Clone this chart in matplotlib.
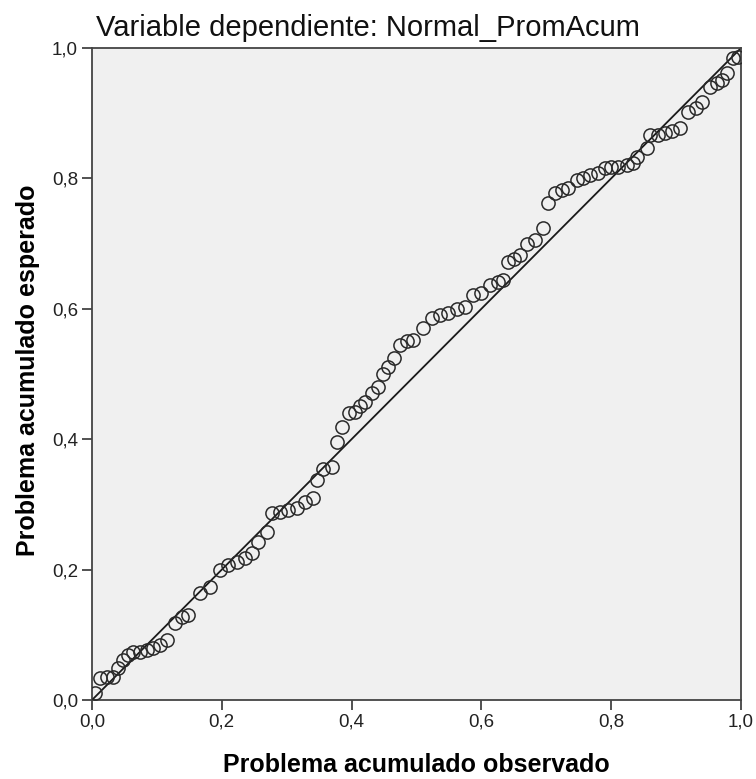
import matplotlib
matplotlib.use("Agg")
import matplotlib.pyplot as plt

observed = [0.005,0.012,0.023,0.032,0.040,0.048,0.055,0.063,0.074,0.085,0.094,0.105,0.116,0.128,0.139,0.148,
            0.166,0.182,0.197,0.210,0.223,0.236,0.247,0.256,0.270,0.277,0.290,0.302,0.316,0.328,
            0.340,0.347,0.356,0.370,0.377,0.385,0.396,0.405,0.413,0.420,0.431,0.440,0.448,0.456,0.465,0.475,0.485,0.495,
            0.510,0.524,0.536,0.549,0.562,0.575,0.587,0.600,0.613,0.625,0.633,0.641,0.650,0.660,0.670,0.683,0.695,
            0.703,0.713,0.724,0.733,0.747,0.757,0.767,0.780,0.790,0.800,0.810,0.824,0.834,
            0.840,0.855,0.860,0.872,0.883,0.894,0.906,0.918,0.930,0.940,0.952,0.963,0.971,0.978,0.988,0.995]
expected = [0.011,0.034,0.035,0.035,0.049,0.061,0.069,0.074,0.074,0.077,0.080,0.084,0.092,0.118,0.127,0.130,
            0.164,0.173,0.199,0.207,0.212,0.218,0.225,0.242,0.258,0.287,0.288,0.291,0.294,0.304,
            0.310,0.337,0.355,0.357,0.396,0.419,0.440,0.442,0.451,0.457,0.471,0.480,0.500,0.510,0.524,0.545,0.550,0.552,
            0.570,0.586,0.590,0.593,0.600,0.603,0.621,0.624,0.636,0.641,0.644,0.672,0.677,0.682,0.700,0.706,0.724,
            0.762,0.778,0.782,0.785,0.798,0.800,0.805,0.808,0.816,0.818,0.818,0.820,0.824,
            0.833,0.847,0.867,0.867,0.870,0.872,0.877,0.902,0.908,0.917,0.940,0.946,0.951,0.962,0.985,0.986]
ref_line = [0.0, 1.0]
tick_values = [0.0, 0.2, 0.4, 0.6, 0.8, 1.0]
tick_labels = ["0,0", "0,2", "0,4", "0,6", "0,8", "1,0"]

plt.rcParams['font.family'] = ['Liberation Sans', 'DejaVu Sans']

fig = plt.figure(figsize=(7.56, 7.79), dpi=100)
ax = fig.add_axes([92/756, 1-700/779, (741-92)/756, (700-48)/779])
ax.set_facecolor('#f0f0f0')

ax.plot(ref_line, ref_line, color='#1a1a1a', lw=1.3, zorder=2)
ax.plot(observed, expected, linestyle='none', marker='o', markersize=9.5,
        markerfacecolor='none', markeredgecolor='#2a2a2a', markeredgewidth=1.1, zorder=3)

ax.set_xlim(0, 1)
ax.set_ylim(0, 1)
ax.set_xticks(tick_values)
ax.set_xticklabels(tick_labels)
ax.set_yticks(tick_values)
ax.set_yticklabels(tick_labels)
ax.tick_params(direction='out', length=7, width=1.2, colors='#333333', labelsize=13.5,
               labelcolor='#222222', pad=3)
for s in ax.spines.values():
    s.set_color('#444444')
    s.set_linewidth(1.3)

ax.set_xlabel("Problema acumulado observado", fontsize=18, fontweight='bold')
ax.set_ylabel("Problema acumulado esperado", fontsize=18, fontweight='bold')
ax.xaxis.set_label_coords((416-92)/649, -(765-700)/652)
ax.yaxis.set_label_coords(-(92-28)/649, (700-370)/652)
ax.xaxis.label.set_va('center')
ax.yaxis.label.set_va('center')

fig.text(368/756, 1-28/779, "Variable dependiente: Normal_PromAcum", fontsize=21,
         ha='center', va='center', color='#111111')

fig.savefig("out.png", dpi=100, facecolor='white')
